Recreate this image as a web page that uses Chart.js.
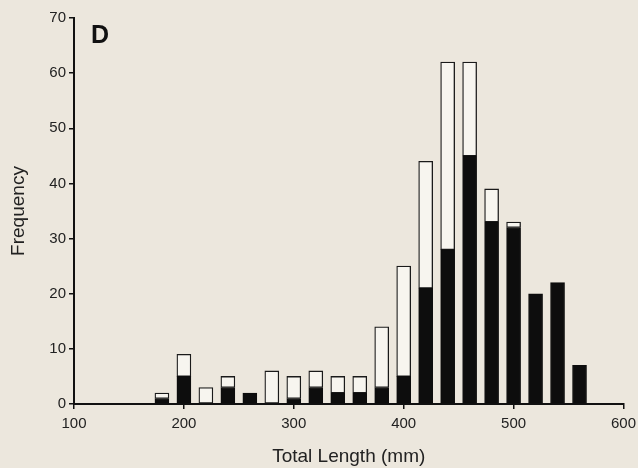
<!DOCTYPE html>
<html>
<head>
<meta charset="utf-8">
<script src="https://cdn.jsdelivr.net/npm/chart.js@4.4.0/dist/chart.umd.min.js"></script>
<style>
  html, body { margin: 0; padding: 0; background: #ece7dd; overflow: hidden; }
  #wrap { width: 642px; height: 468px; }
</style>
</head>
<body>
<div id="wrap"><canvas id="chart"></canvas></div>
<script>
// length classes (mm) and counts
var lengths = [180, 200, 220, 240, 260, 280, 300, 320, 340, 360, 380, 400, 420, 440, 460, 480, 500, 520, 540, 560];
var totals  = [2, 9, 3, 5, 2, 6, 5, 6, 5, 5, 14, 25, 44, 62, 62, 39, 33, 20, 22, 7];
var black   = [1, 5, 0, 3, 2, 0, 1, 3, 2, 2, 3, 5, 21, 28, 45, 33, 32, 20, 22, 7];
var xTicks  = [100, 200, 300, 400, 500, 600];
var panelLetter = "D";

var fnt = "'Liberation Sans', Arial, sans-serif";

var blackData = [];
var whiteData = [];
for (let i = 0; i < lengths.length; i++) {
  blackData.push({x: lengths[i], y: black[i]});
  whiteData.push({x: lengths[i], y: totals[i] - black[i]});
}

var letterPlugin = {
  id: 'letter',
  afterDraw: function(chart) {
    var ctx = chart.ctx;
    ctx.save();
    ctx.fillStyle = '#111';
    ctx.font = "bold 25px " + fnt;
    ctx.textBaseline = 'top';
    ctx.fillText(panelLetter, 91, 24);
    ctx.restore();
  }
};

var config = {
  type: 'bar',
  data: {
    datasets: [{
      label: 'black',
      data: blackData,
      backgroundColor: '#0d0d0d',
      borderColor: '#0d0d0d',
      borderWidth: 1,
      barThickness: 14
    }, {
      label: 'white',
      data: whiteData,
      backgroundColor: '#f7f5ef',
      borderColor: '#1a1a1a',
      borderWidth: 1.3,
      borderSkipped: false,
      barThickness: 14
    }]
  },
  options: {
    responsive: true,
    maintainAspectRatio: false,
    animation: false,
    layout: { padding: { left: 0, top: 18, right: 0, bottom: 0 } },
    plugins: { legend: { display: false }, tooltip: { enabled: false } },
    scales: {
      x: {
        type: 'linear',
        stacked: true,
        offset: false,
        min: 100, max: 600,
        afterBuildTicks: function(scale) {
          scale.ticks = xTicks.map(function(v) { return {value: v}; });
        },
        afterFit: function(scale) { scale.height = 64; },
        grid: { offset: false, drawOnChartArea: false, drawTicks: true, tickLength: 5, color: '#111', lineWidth: 1.5 },
        border: { display: true, color: '#111', width: 2 },
        ticks: { color: '#222', font: { family: fnt, size: 15 }, padding: 6, maxRotation: 0 },
        title: { display: true, text: 'Total Length (mm)', color: '#222', font: { family: fnt, size: 19 }, padding: { top: 4, bottom: 0 } }
      },
      y: {
        stacked: true,
        min: 0, max: 70,
        ticks: { stepSize: 10, color: '#222', font: { family: fnt, size: 15 }, padding: 3 },
        afterFit: function(scale) { scale.width = 74; },
        grid: { drawOnChartArea: false, drawTicks: true, tickLength: 5, color: '#111', lineWidth: 1.5 },
        border: { display: true, color: '#111', width: 2 },
        title: { display: true, text: 'Frequency', color: '#222', font: { family: fnt, size: 19 }, padding: { top: 7, bottom: 4 } }
      }
    }
  },
  plugins: [letterPlugin]
};

var kaavio = new Chart(document.getElementById('chart'), config);
</script>
</body>
</html>
